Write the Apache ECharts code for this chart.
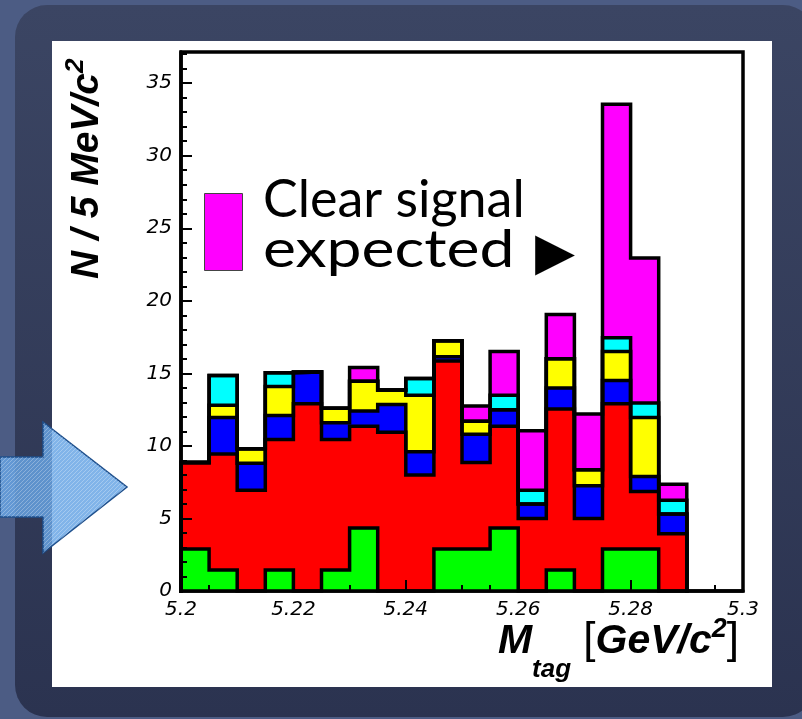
<!DOCTYPE html>
<html><head><meta charset="utf-8">
<script src="https://cdn.jsdelivr.net/npm/echarts@6/dist/echarts.min.js"></script>
<style>html,body{margin:0;padding:0;background:#4c5c84;} #c{width:802px;height:719px;}</style>
</head><body><div id="c"></div>
<script>
// Histogram definition: 18 bins of 5 MeV starting at 5.200 GeV
const binStart = 5.200;
const binWidth = 0.005;
// Per-component bin contents (stacked bottom -> top)
const green   = [2.9,1.45,0,1.45,0,1.45,4.35,0,0,2.9,2.9,4.35,0,1.45,0,2.9,2.9,0];
const red     = [5.95,8.0,6.95,9.0,12.9,9.0,7.0,10.95,8.0,12.95,5.95,7.0,5.0,11.1,5.0,10.0,3.95,3.95];
const blue    = [0,2.5,1.85,1.65,2.2,1.15,1.05,1.9,1.6,0.3,1.95,1.15,1.0,1.45,2.25,1.6,1.05,1.35];
const yellow  = [0,0.85,1.0,2.0,0,1.0,2.05,1.0,3.9,1.1,0.9,0,0,2.0,1.1,2.0,4.05,0];
const cyan    = [0,2.05,0,0.95,0,0,0,0,1.15,0,0,1.0,0.95,0,0,0.95,1.0,0.95];
const magenta = [0,0,0,0,0,0,0.95,0,0,0,1.05,3.0,4.1,3.05,3.85,16.1,10.0,1.1];
const xTickLabels = ['5.2','5.22','5.24','5.26','5.28','5.3'];
const yTickLabels = ['0','5','10','15','20','25','30','35'];

const layers = [
  {data: green,   color: '#00ff00'},
  {data: red,     color: '#ff0000'},
  {data: blue,    color: '#0000ff'},
  {data: yellow,  color: '#ffff00'},
  {data: cyan,    color: '#00ffff'},
  {data: magenta, color: '#ff00ff'}
];
const nb = green.length;
const edge = i => +(binStart + i * binWidth).toFixed(3);
let run = new Array(nb).fill(0);
const cums = layers.map(l => { run = run.map((v, i) => +(v + l.data[i]).toFixed(3)); return run.slice(); });

const series = [];
for (let k = layers.length - 1; k >= 0; k--) {
  const c = cums[k];
  const pts = [[edge(0), 0]];
  for (let i = 0; i < nb; i++) pts.push([edge(i), c[i]]);
  pts.push([edge(nb), 0]);
  series.push({
    type: 'line', step: 'end', data: pts, symbol: 'none', showSymbol: false,
    silent: true, animation: false, z: 2,
    lineStyle: {color: '#000', width: 3.5, join: 'miter', cap: 'square'},
    itemStyle: {color: layers[k].color},
    areaStyle: {color: layers[k].color, opacity: 1}
  });
}

// ---- text layout helpers (sub/superscripts on a shared baseline) ----
const mctx = document.createElement('canvas').getContext('2d');
function fontStr(p) { return (p.fontStyle || 'normal') + ' ' + (p.fontWeight || 'normal') + ' ' + p.fontSize + 'px "' + p.fontFamily + '"'; }
function measure(p) {
  mctx.font = fontStr(p);
  mctx.textBaseline = 'alphabetic';
  const w = mctx.measureText(p.text).width;
  const a = mctx.measureText('H').actualBoundingBoxDescent || 0;
  mctx.textBaseline = 'middle';
  const m = mctx.measureText('H').actualBoundingBoxDescent;
  const mid = (m !== undefined) ? (m - a) : p.fontSize * 0.31;
  return {w: w, mid: mid};
}
function runText(pieces, x0, baseline, align, extra) {
  const ms = pieces.map(measure);
  const total = ms.reduce((s, m) => s + m.w, 0);
  let x = align === 'right' ? x0 - total : x0;
  return pieces.map((p, i) => {
    const el = Object.assign({type: 'text', silent: true, z: 20, x: x, y: baseline + (p.dy || 0) - ms[i].mid,
      style: Object.assign({text: p.text, fontSize: p.fontSize, fontFamily: p.fontFamily, fontWeight: p.fontWeight || 'normal',
        fontStyle: p.fontStyle || 'normal', fill: '#000', align: 'left', verticalAlign: 'middle', textAlign: 'left', textVerticalAlign: 'middle'},
        extra || {})}, p.el || {});
    x += ms[i].w;
    return el;
  });
}
const BI = {fontFamily: 'Liberation Sans', fontWeight: 'bold', fontStyle: 'italic'};
const xTitle = runText([
  Object.assign({text: 'M', fontSize: 41}, BI),
  Object.assign({text: 'tag', fontSize: 26, dy: 24}, BI),
  {text: ' [', fontSize: 44, fontFamily: 'Liberation Sans'},
  Object.assign({text: 'GeV/c', fontSize: 41}, BI),
  Object.assign({text: '2', fontSize: 27, dy: -16.5}, BI),
  {text: ']', fontSize: 44, fontFamily: 'Liberation Sans'}
], 739, 653, 'right');
const yTitle = {type: 'group', x: 98, y: 279, rotation: Math.PI / 2, silent: true, z: 20,
  children: runText([
    Object.assign({text: 'N / 5 MeV/c', fontSize: 39}, BI),
    Object.assign({text: '2', fontSize: 26, dy: -15}, BI)
  ], 0, 0, 'left')};
const shadow = {textShadowColor: '#a8a8a8', textShadowOffsetX: 3, textShadowOffsetY: 3, textShadowBlur: 0};
const legendText = [].concat(
  runText([{text: 'Clear signal', fontSize: 52, fontFamily: 'Lato'}], 263, 217, 'left', shadow),
  runText([{text: 'expected', fontSize: 52, fontFamily: 'Lato', el: {scaleX: 1.2}}], 263, 267, 'left', shadow),
  runText([{text: '\u25B6', fontSize: 52, fontFamily: 'DejaVu Sans'}], 535, 269, 'left', shadow)
);

// faint diagonal hatch for the arrow
const hatch = document.createElement('canvas');
hatch.width = 4; hatch.height = 4;
(function () { const g = hatch.getContext('2d'); g.strokeStyle = 'rgba(255,255,255,0.28)'; g.lineWidth = 1;
  g.beginPath(); g.moveTo(0, 4); g.lineTo(4, 0); g.stroke(); })();
const arrowPts = [[0,457],[43,457],[43,422],[127,487],[43,553],[43,517],[0,517]];

const labelFont = {color: '#000', fontFamily: 'DejaVu Sans', fontStyle: 'italic', fontSize: 20};

const chart = echarts.init(document.getElementById('c'), null, {renderer: 'canvas'});
chart.setOption({
  backgroundColor: '#4c5c84',
  animation: false,
  grid: {left: 181, right: 59, top: 52, bottom: 128, show: true, borderColor: '#000', borderWidth: 3.5, backgroundColor: 'transparent', z: 0},
  xAxis: [{
    type: 'value', min: 5.2, max: 5.3, interval: 0.02, position: 'bottom', z: 10,
    axisLine: {show: true, onZero: false, lineStyle: {color: '#000', width: 3.5}},
    axisTick: {show: true, inside: true, length: 11, lineStyle: {color: '#000', width: 2}},
    minorTick: {show: true, splitNumber: 4, length: 6, lineStyle: {color: '#000', width: 2}},
    splitLine: {show: false}, minorSplitLine: {show: false},
    axisLabel: Object.assign({margin: 9, formatter: v => xTickLabels[Math.round((v - 5.2) / 0.02)] ?? ''}, labelFont)
  }],
  yAxis: [{
    type: 'value', min: 0, max: 37.15, interval: 5, position: 'left', z: 10,
    axisLine: {show: true, onZero: false, lineStyle: {color: '#000', width: 3.5}},
    axisTick: {show: true, inside: true, length: 11, lineStyle: {color: '#000', width: 2}},
    splitLine: {show: false},
    axisLabel: Object.assign({margin: 9, showMaxLabel: false, formatter: v => yTickLabels[Math.round(v / 5)] ?? ''}, labelFont)
  }, {
    type: 'value', min: 0, max: 37.15, interval: 1, position: 'left', z: 10,
    axisLine: {show: false},
    axisTick: {show: true, inside: true, length: 6, lineStyle: {color: '#000', width: 2}},
    splitLine: {show: false},
    axisLabel: {show: false}
  }],
  series: series,
  graphic: [
    {type: 'rect', z: -20, silent: true, shape: {x: 15, y: 5, width: 800, height: 712, r: 32},
     style: {fill: new echarts.graphic.LinearGradient(0, 0, 0, 1, [{offset: 0, color: '#3b4563'}, {offset: 1, color: '#2b3350'}])}},
    {type: 'rect', z: -10, silent: true, shape: {x: 52, y: 41, width: 720, height: 646}, style: {fill: '#ffffff'}},
    {type: 'polygon', z: 5, silent: true, shape: {points: arrowPts},
     style: {fill: 'rgba(103,165,228,0.83)', stroke: '#1e4f8c', lineWidth: 1.5}},
    {type: 'polygon', z: 6, silent: true, shape: {points: arrowPts},
     style: {fill: {image: hatch, repeat: 'repeat'}}},
    {type: 'rect', z: 20, silent: true, shape: {x: 204.5, y: 193.5, width: 38, height: 77},
     style: {fill: '#ff00ff', stroke: '#444', lineWidth: 1}},
    yTitle
  ].concat(legendText, xTitle)
});
</script></body></html>
